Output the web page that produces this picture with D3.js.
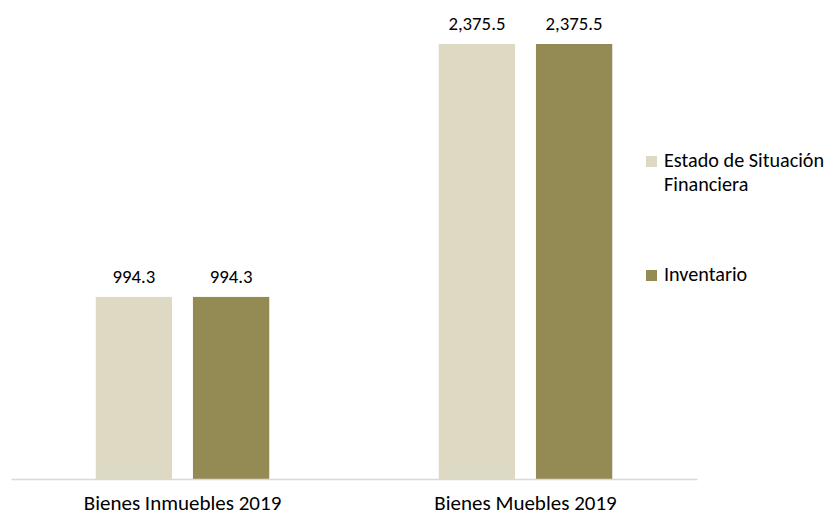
<!DOCTYPE html>
<html>
<head>
<meta charset="utf-8">
<script src="https://cdn.jsdelivr.net/npm/d3@7"></script>
<style>
  html, body { margin: 0; padding: 0; background: #fff; }
  svg text { font-family: Carlito, Lato, "Open Sans", sans-serif; fill: #000; }
</style>
</head>
<body>
<svg id="chart" width="831" height="516"></svg>
<script>
const categories = ["Bienes Inmuebles 2019", "Bienes Muebles 2019"];
const seriesNames = ["Estado de Situación Financiera", "Inventario"];
const estadoValues = [994.3, 2375.5];
const inventarioValues = [994.3, 2375.5];
const seriesColors = ["#ddd9c3", "#948a54"];

const svg = d3.select("#chart");
const x0 = d3.scaleBand().domain(categories).range([11, 697]).paddingInner(0).paddingOuter(0);
const y = d3.scaleLinear().domain([0, 2375.5]).range([479, 44]);
const groupW = 173.5;
const x1 = d3.scaleBand().domain(seriesNames).range([0, groupW]).paddingInner(0.215);

const allSeries = [estadoValues, inventarioValues];
const fmt = d3.format(",.1f");

categories.forEach((cat, i) => {
  const gx = x0(cat) + (x0.bandwidth() - groupW) / 2;
  seriesNames.forEach((s, j) => {
    const v = allSeries[j][i];
    svg.append("rect")
      .attr("x", gx + x1(s))
      .attr("y", y(v))
      .attr("width", x1.bandwidth())
      .attr("height", y(0) - y(v))
      .attr("fill", seriesColors[j]);
    svg.append("text")
      .attr("x", gx + x1(s) + x1.bandwidth() / 2)
      .attr("y", y(v) - 14)
      .attr("text-anchor", "middle")
      .style("font-size", "18.8px")
      .text(fmt(v));
  });
});

// axis
const xAxis = d3.axisBottom(x0).tickSize(0).tickPadding(0);
const ax = svg.append("g").attr("transform", `translate(0,${y(0)})`).call(xAxis);
ax.select(".domain").attr("stroke", "#d9d9d9").attr("stroke-width", 1.5);
ax.selectAll("text")
  .attr("dy", null)
  .attr("y", 31)
  .style("font-size", "21px")
  .style("font-family", "Carlito, Lato, 'Open Sans', sans-serif")
  .attr("fill", "#000");

// legend
const legend = svg.append("g");
const legendY = [160, 274];
const legendLines = [["Estado de Situación", "Financiera"], ["Inventario"]];
seriesNames.forEach((s, j) => {
  legend.append("rect")
    .attr("x", 646).attr("y", legendY[j] - 4)
    .attr("width", 11).attr("height", 11)
    .attr("fill", seriesColors[j]);
  legendLines[j].forEach((ln, k) => {
    legend.append("text")
      .attr("x", 664).attr("y", legendY[j] + 7 + k * 24)
      .style("font-size", "20.2px")
      .text(ln);
  });
});
</script>
</body>
</html>
